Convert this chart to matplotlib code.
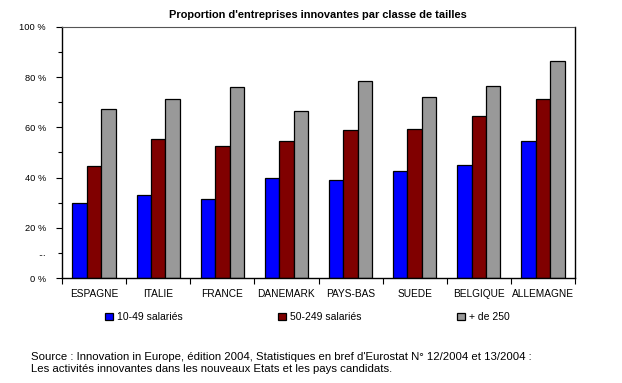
import matplotlib
matplotlib.use("Agg")
import matplotlib.pyplot as plt
import numpy as np
from matplotlib.ticker import FixedLocator, FixedFormatter

plt.rcParams['font.family'] = ['Liberation Sans', 'DejaVu Sans']

categories = ["ESPAGNE", "ITALIE", "FRANCE", "DANEMARK", "PAYS-BAS", "SUEDE", "BELGIQUE", "ALLEMAGNE"]
small = [30, 33, 31.5, 40, 39, 42.5, 45, 54.5]
medium = [44.5, 55.5, 52.5, 54.5, 59, 59.5, 64.5, 71.5]
large = [67.5, 71.5, 76, 66.5, 78.5, 72, 76.5, 86.5]
series_names = ["10-49 salariés", "50-249 salariés", "+ de 250"]
colors = ["#0000ff", "#800000", "#999999"]
title = "Proportion d'entreprises innovantes par classe de tailles"
source = ("Source : Innovation in Europe, édition 2004, Statistiques en bref d'Eurostat N° 12/2004 et 13/2004 :\n"
          "Les activités innovantes dans les nouveaux Etats et les pays candidats.")

fig = plt.figure(figsize=(6.22, 3.83), dpi=100)
ax = fig.add_axes([62/622, 1-278/383, (575-62)/622, (278-27)/383])

x = np.arange(len(categories))
w = 0.225
handles = []
for i, (vals, c, name) in enumerate(zip([small, medium, large], colors, series_names)):
    b = ax.bar(x + (i-1)*w, vals, w, color=c, edgecolor='black', linewidth=0.9, label=name)
    handles.append(b)

ax.set_xlim(-0.5, len(categories)-0.5)
ax.set_ylim(0, 100)

ax.set_xticks(x)
ax.set_xticklabels(categories, fontsize=7.3)
ax.tick_params(axis='x', length=0, pad=8)
ax.set_xticks(np.arange(len(categories)+1) - 0.5, minor=True)
ax.tick_params(axis='x', which='minor', length=4, direction='out', width=0.8)

ax.set_yticks(np.arange(0, 101, 20))
ax.set_yticklabels([f"{v} %" for v in range(0, 101, 20)], fontsize=6.7)
ax.yaxis.set_minor_locator(FixedLocator([10, 30, 50, 70, 90]))
ax.yaxis.set_minor_formatter(FixedFormatter(["...", "", "", "", ""]))
ax.tick_params(axis='y', which='major', length=4, direction='out', width=0.8, pad=7.5)
ax.tick_params(axis='y', which='minor', length=3, direction='out', width=0.8, labelsize=6.5, pad=8.5)

for s in ['left', 'bottom', 'right']:
    ax.spines[s].set_color('black')
    ax.spines[s].set_linewidth(1.0)
ax.spines['top'].set_linestyle((0, (1, 1)))
ax.spines['top'].set_color('#555555')
ax.spines['top'].set_linewidth(0.8)

fig.text(318/622, 1-15/383, title, ha='center', va='center', fontsize=7.9, fontweight='bold')

leg = fig.legend(handles=handles, loc='center left', bbox_to_anchor=(96/622, 1-317/383),
                 ncol=3, frameon=False, fontsize=7.5, handlelength=0.7, handleheight=0.7,
                 handletextpad=0.4, columnspacing=9.2)

fig.text(31/622, 1-363/383, source, ha='left', va='center', fontsize=8.2, linespacing=1.2)

fig.savefig("out.png", dpi=100)
